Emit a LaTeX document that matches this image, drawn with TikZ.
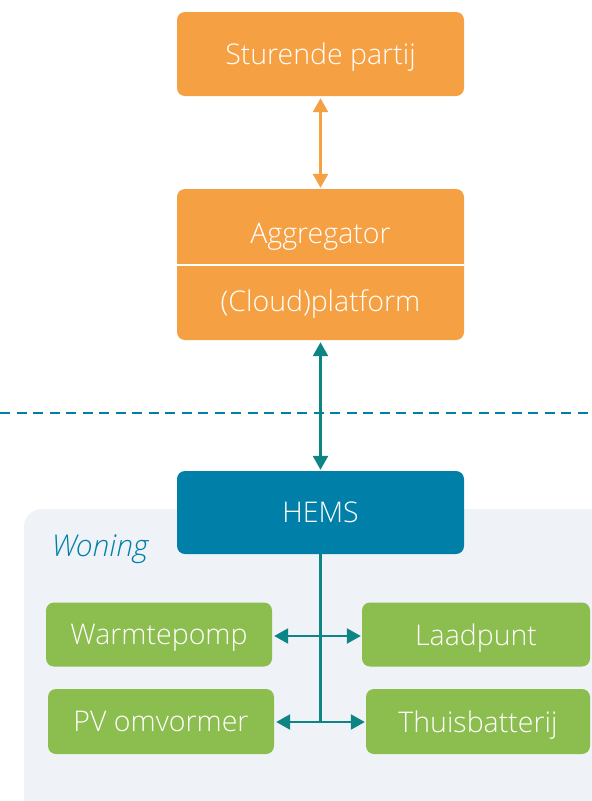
\documentclass[tikz,border=0pt]{standalone}
\usepackage{fontspec}
\setmainfont{Open Sans Light}
\usetikzlibrary{positioning}
\usetikzlibrary{arrows.meta}

\definecolor{oranje}{HTML}{F5A042}
\definecolor{blauw}{HTML}{0080A8}
\definecolor{petrol}{HTML}{0E8585}
\definecolor{groen}{HTML}{8CBD4F}
\definecolor{lichtgrijs}{HTML}{EFF3F7}

\tikzset{
  tekst/.style={text=white, text depth=0pt, font=\fontsize{28.5}{32}\selectfont},
  blok/.style={tekst, rounded corners=8pt, minimum width=287pt},
  apparaat/.style={tekst, rounded corners=8pt, fill=groen, minimum width=226pt, minimum height=64pt},
  pijl/.style={{Triangle[width=15pt,length=14pt]}-{Triangle[width=15pt,length=14pt]}, line width=2.5pt},
}

\begin{document}
\begin{tikzpicture}[x=1pt, y=-1pt]
  \useasboundingbox (0,0) rectangle (592,801);
  \clip (0,0) rectangle (592,801);

  % Woning achtergrond
  \fill[lichtgrijs, rounded corners=18pt] (24,509) rectangle (620,830);
  \node[text=blauw, text depth=0pt, font=\fontsize{30}{33}\selectfont\itshape] (woning) at (100,546) {Woning};

  % Scheidingslijn
  \draw[blauw, line width=2.5pt, dash pattern=on 10pt off 6.5pt] (0,413) -- (592,413);

  % Blokken
  \node[blok, fill=oranje, minimum height=84pt] (partij) at (320.5,54) {Sturende partij};
  \node[blok, fill=oranje, minimum height=151pt] (aggr) at (320.5,264.5) {};
  \node[tekst] (aggrtxt) at (320.5,233) {Aggregator};
  \node[tekst] (cloud) at (320.5,301) {(Cloud)platform};
  \draw[white, line width=2pt] (aggr.west |- 0,265) -- (aggr.east |- 0,265);
  \node[blok, fill=blauw, minimum height=83pt] (hems) at (320.5,512.5) {HEMS};

  % Apparaten
  \node[apparaat] (warmte) at (159,634.5) {Warmtepomp};
  \node[apparaat, minimum width=228pt] (laad) at (476,634.5) {Laadpunt};
  \node[apparaat, minimum height=65pt] (pv) at (161,721.5) {PV omvormer};
  \node[apparaat, minimum height=65pt, minimum width=224pt] (batt) at (478,721.5) {Thuisbatterij};

  % Verbindingen
  \draw[pijl, oranje, shorten <=2pt, shorten >=1pt] (partij) -- (aggr);
  \draw[pijl, petrol, shorten <=2pt, shorten >=1pt] (aggr) -- (hems);
  \coordinate (knoop) at (320.5,722);
  \draw[petrol, line width=2.5pt] (hems.south) -- (knoop);
  \draw[pijl, petrol, shorten <=2pt, shorten >=1pt] (warmte.east |- 0,636) -- (laad.west |- 0,636);
  \draw[pijl, petrol, shorten <=2pt, shorten >=1pt] (pv.east |- 0,722) -- (batt.west |- 0,722);
\end{tikzpicture}
\end{document}
